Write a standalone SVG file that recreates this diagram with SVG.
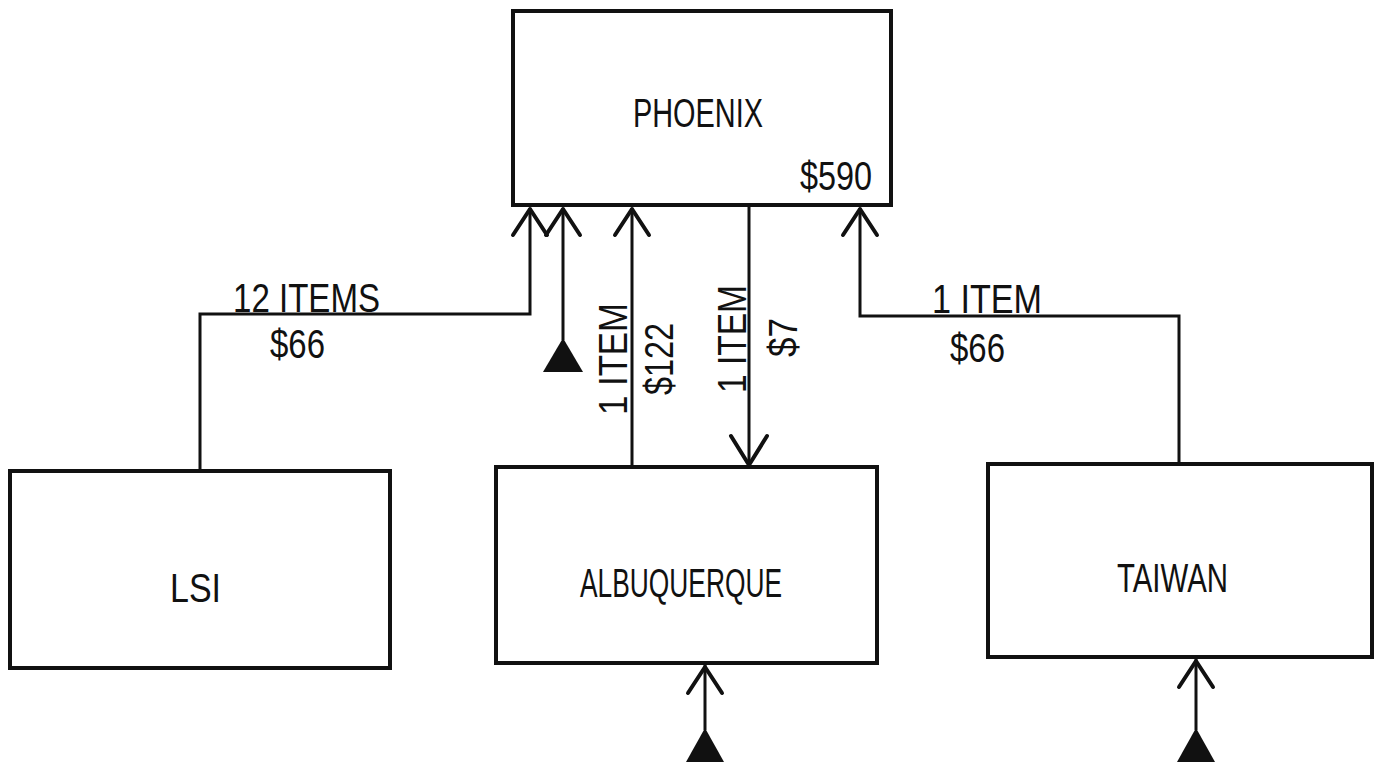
<svg xmlns="http://www.w3.org/2000/svg" width="1378" height="767" viewBox="0 0 1378 767">
<style>
.box{fill:#fff;stroke:#111;stroke-width:4}
.ln{fill:none;stroke:#111;stroke-width:3}
.ah{fill:none;stroke:#111;stroke-width:4;stroke-linecap:round;stroke-linejoin:round}
.tri{fill:#111}
text{font-family:"Liberation Sans","DejaVu Sans",sans-serif;fill:#111;font-size:40px}
</style>
<rect width="1378" height="767" fill="#fff"/>
<g id="connectors">
  <polyline class="ln" points="200,470 200,314 530,314 530,208"/>
  <polyline class="ah" points="513,235 530,209 547,235"/>
  <line class="ln" x1="563" y1="208" x2="563" y2="340"/>
  <polyline class="ah" points="546,235 563,209 580,235"/>
  <polygon class="tri" points="563,338 543,372 583,372"/>
  <line class="ln" x1="632" y1="208" x2="632" y2="467"/>
  <polyline class="ah" points="615,235 632,209 649,235"/>
  <line class="ln" x1="749" y1="206" x2="749" y2="466"/>
  <polyline class="ah" points="731,436 749,465 767,436"/>
  <polyline class="ln" points="1179,463 1179,316 860,316 860,208"/>
  <polyline class="ah" points="843,235 860,209 877,235"/>
  <line class="ln" x1="705" y1="665" x2="705" y2="730"/>
  <polyline class="ah" points="688,693 705,667 722,693"/>
  <polygon class="tri" points="705,728 686,762 724,762"/>
  <line class="ln" x1="1196" y1="659" x2="1196" y2="730"/>
  <polyline class="ah" points="1179,687 1196,661 1213,687"/>
  <polygon class="tri" points="1196,728 1177,762 1215,762"/>
  <text x="233" y="312" textLength="147" lengthAdjust="spacingAndGlyphs">12 ITEMS</text>
  <text x="270" y="358" textLength="55" lengthAdjust="spacingAndGlyphs">$66</text>
  <text x="932" y="313" textLength="110" lengthAdjust="spacingAndGlyphs">1 ITEM</text>
  <text x="950" y="362" textLength="55" lengthAdjust="spacingAndGlyphs">$66</text>
  <text transform="translate(627,415) rotate(-90)" textLength="112" lengthAdjust="spacingAndGlyphs">1 ITEM</text>
  <text transform="translate(673,395) rotate(-90)" textLength="72" lengthAdjust="spacingAndGlyphs">$122</text>
  <text transform="translate(746,393) rotate(-90)" textLength="108" lengthAdjust="spacingAndGlyphs">1 ITEM</text>
  <text transform="translate(797,357) rotate(-90)" textLength="39" lengthAdjust="spacingAndGlyphs">$7</text>
</g>
<g id="phoenix">
  <rect class="box" x="513" y="11" width="378" height="194"/>
  <text x="633" y="127" textLength="130" lengthAdjust="spacingAndGlyphs">PHOENIX</text>
  <text x="800" y="190" textLength="72" lengthAdjust="spacingAndGlyphs">$590</text>
</g>
<g id="lsi">
  <rect class="box" x="10" y="471" width="380" height="197"/>
  <text x="170" y="602" textLength="51" lengthAdjust="spacingAndGlyphs">LSI</text>
</g>
<g id="albuquerque">
  <rect class="box" x="496" y="467" width="381" height="196"/>
  <text x="580" y="597" textLength="202" lengthAdjust="spacingAndGlyphs">ALBUQUERQUE</text>
</g>
<g id="taiwan">
  <rect class="box" x="988" y="464" width="384" height="193"/>
  <text x="1117" y="592" textLength="111" lengthAdjust="spacingAndGlyphs">TAIWAN</text>
</g>
</svg>
